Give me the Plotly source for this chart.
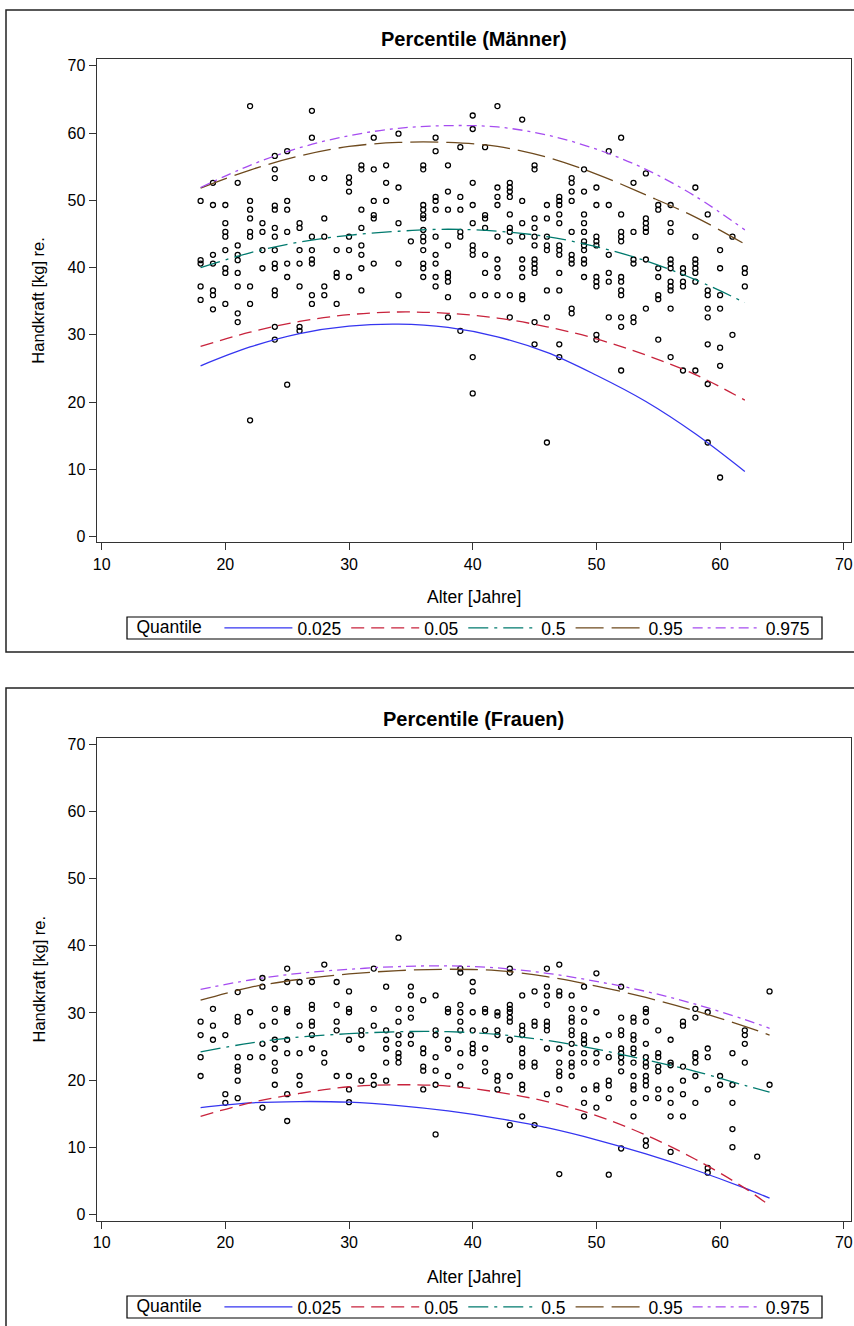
import plotly.graph_objects as go

# ---------------- data: Männer ----------------
men_ages = list(range(18, 63))
men_vals = [
    [49.9, 41.1, 40.6, 37.2, 35.2],
    [52.6, 49.3, 41.9, 40.6, 36.6, 35.9, 33.8],
    [49.3, 46.6, 45.3, 44.6, 42.6, 39.9, 39.2, 34.6],
    [52.6, 43.3, 41.9, 41.1, 39.2, 37.2, 33.2, 31.9],
    [64.0, 49.9, 48.6, 47.3, 45.3, 44.6, 37.2, 34.6, 17.3],
    [46.6, 45.3, 42.6, 39.9],
    [56.6, 54.6, 53.3, 49.2, 48.6, 45.9, 44.6, 42.6, 40.6, 39.9, 36.6, 35.9, 31.2, 29.3],
    [57.3, 49.9, 48.6, 45.3, 40.6, 38.6, 22.6],
    [46.6, 45.9, 42.6, 40.6, 37.2, 31.2, 30.6],
    [63.3, 59.3, 53.3, 44.6, 42.6, 41.2, 40.6, 35.9, 34.6],
    [53.3, 47.3, 44.6, 37.2, 35.9],
    [42.6, 39.2, 38.6, 34.6],
    [53.4, 52.6, 51.3, 44.6, 42.6, 38.6],
    [55.2, 54.6, 48.6, 45.9, 43.3, 41.9, 39.9, 36.6],
    [59.3, 54.6, 49.9, 47.8, 47.3, 40.6],
    [55.2, 52.6, 49.9],
    [59.9, 51.9, 46.6, 40.6, 35.9],
    [43.9],
    [55.2, 54.6, 49.3, 48.6, 47.8, 47.3, 45.6, 44.6, 43.9, 42.6, 40.6, 39.9, 38.6],
    [59.3, 57.3, 50.5, 49.9, 48.6, 44.6, 41.9, 40.6, 38.6, 37.2],
    [55.2, 51.3, 48.6, 43.3, 39.2, 38.6, 37.9, 35.6, 32.6],
    [57.9, 50.5, 48.6, 45.3, 44.6, 30.6],
    [62.6, 60.6, 52.6, 49.3, 46.6, 43.3, 42.6, 41.9, 35.9, 26.7, 21.3],
    [57.9, 47.8, 47.3, 45.9, 41.9, 39.2, 35.9],
    [64.0, 51.9, 50.5, 49.3, 44.6, 41.2, 39.9, 38.6, 35.9],
    [52.6, 51.9, 51.3, 50.5, 47.9, 45.9, 45.3, 43.9, 35.9, 32.6],
    [62.0, 49.9, 46.6, 44.6, 41.2, 39.9, 38.6, 35.9, 35.3],
    [55.2, 54.6, 47.3, 45.9, 44.6, 43.3, 41.2, 40.6, 39.9, 39.2, 31.9, 28.6],
    [49.3, 47.3, 44.6, 43.3, 42.6, 36.6, 32.6, 14.0],
    [50.5, 49.9, 49.3, 47.9, 46.6, 43.3, 42.6, 41.9, 39.2, 36.6, 28.6, 26.7],
    [53.3, 52.6, 51.3, 49.9, 45.3, 41.9, 41.2, 40.6, 33.9, 33.2],
    [54.6, 51.3, 47.9, 46.6, 45.3, 43.9, 43.3, 42.6, 41.2, 40.6, 38.6],
    [51.9, 49.3, 44.6, 43.9, 43.3, 38.6, 37.9, 37.2, 30.0, 29.3],
    [57.3, 49.3, 41.9, 39.2, 37.9, 32.6],
    [59.3, 47.9, 45.3, 44.6, 43.9, 38.6, 37.9, 36.6, 35.9, 32.6, 31.2, 24.7],
    [52.6, 45.3, 41.2, 40.6, 32.6, 31.9],
    [54.0, 47.3, 46.6, 45.9, 45.3, 41.2, 33.9],
    [49.3, 48.6, 39.9, 38.6, 35.9, 35.3, 29.3],
    [49.3, 46.6, 45.3, 41.2, 40.6, 39.9, 37.9, 37.2, 36.6, 33.9, 26.7],
    [39.9, 39.2, 37.9, 37.2, 24.7],
    [51.9, 44.6, 41.2, 40.6, 39.9, 39.2, 37.9, 24.7],
    [47.9, 36.6, 35.9, 33.9, 32.6, 28.6, 22.7, 14.0],
    [42.6, 39.9, 35.9, 33.9, 28.1, 25.4, 8.8],
    [44.6, 30.0],
    [39.9, 39.2, 37.2],
]

men_curve_age = [18, 22, 26, 30, 34, 38, 42, 46, 50, 54, 58, 62]
men_q025 = [25.4, 28.2, 30.2, 31.3, 31.6, 31.1, 29.7, 27.4, 24.0, 20.1, 15.3, 9.7]
men_q05 = [28.3, 30.4, 32.0, 33.0, 33.4, 33.2, 32.5, 31.2, 29.4, 27.0, 24.1, 20.3]
men_q50 = [40.0, 42.2, 43.8, 44.8, 45.4, 45.7, 45.4, 44.6, 43.1, 41.0, 38.2, 34.8]
men_q95 = [51.8, 54.5, 56.6, 58.0, 58.6, 58.6, 58.0, 56.4, 53.9, 50.8, 47.5, 43.5]
men_q975 = [51.9, 55.2, 57.8, 59.6, 60.7, 61.1, 60.9, 59.7, 57.6, 54.6, 50.6, 45.6]

# ---------------- data: Frauen ----------------
women_ages = list(range(18, 65))
women_vals = [
    [28.7, 26.7, 23.4, 20.6],
    [30.6, 28.1, 26.0],
    [26.7, 17.9, 16.6],
    [33.1, 29.4, 28.7, 23.4, 22.0, 21.4, 19.9, 17.3],
    [30.1, 23.4],
    [35.2, 33.9, 28.1, 25.4, 23.4, 15.9],
    [30.6, 28.7, 26.0, 24.7, 22.6, 21.4, 19.3],
    [36.6, 34.6, 30.6, 30.1, 26.0, 24.0, 17.9, 13.9],
    [34.6, 28.1, 24.0, 20.6, 19.3],
    [34.6, 31.2, 30.6, 28.7, 28.1, 26.7, 24.7],
    [37.2, 24.0, 22.6],
    [34.6, 31.2, 28.7, 27.4, 20.6],
    [33.2, 30.6, 30.1, 26.0, 20.6, 18.6, 16.7],
    [27.4, 26.7, 24.7, 19.9],
    [36.6, 30.6, 28.1, 20.6, 19.3],
    [33.9, 27.4, 26.0, 24.7, 22.6, 19.9],
    [41.2, 30.6, 28.7, 26.7, 25.4, 24.0, 23.4, 22.6],
    [33.9, 32.6, 30.6, 29.3, 26.7, 25.4],
    [31.9, 24.7, 24.0, 22.0, 21.4, 18.6],
    [32.6, 27.4, 26.7, 23.4, 21.4, 19.3, 11.9],
    [30.6, 30.1, 26.0, 24.7, 20.6],
    [36.6, 36.0, 31.2, 30.1, 28.7, 27.4, 24.0, 22.0, 19.3],
    [34.6, 33.2, 30.1, 27.4, 25.4, 24.7, 24.0],
    [30.6, 30.1, 27.4, 24.7, 22.6, 21.3],
    [30.1, 29.6, 27.4, 26.7, 20.6, 19.9, 18.6],
    [36.6, 36.0, 31.2, 30.6, 30.1, 29.3, 28.7, 26.0, 20.6, 13.3],
    [32.6, 28.1, 27.4, 26.7, 24.7, 24.0, 22.6, 22.0, 19.3, 18.6, 14.6],
    [33.2, 28.7, 28.1, 22.6, 22.0, 13.3],
    [36.6, 33.9, 32.6, 31.2, 28.7, 28.1, 27.4, 24.7, 17.9],
    [37.2, 33.2, 32.6, 24.7, 22.6, 21.3, 20.6, 18.6, 6.0],
    [32.6, 30.6, 29.3, 28.7, 27.4, 26.7, 25.4, 24.0, 22.6, 22.0, 20.6],
    [33.9, 30.6, 28.7, 26.7, 26.0, 25.4, 24.0, 22.6, 18.6, 16.6, 14.6],
    [35.9, 30.1, 26.0, 24.0, 22.6, 19.2, 18.6, 15.9],
    [26.7, 23.4, 19.9, 19.2, 17.3, 5.9],
    [33.9, 29.3, 27.4, 26.7, 24.7, 24.0, 23.4, 22.6, 21.3, 9.8],
    [29.3, 28.7, 26.7, 26.0, 24.7, 24.0, 22.6, 20.6, 19.2, 18.6, 16.6, 14.6],
    [30.6, 30.1, 28.7, 25.4, 23.4, 22.6, 22.0, 20.6, 19.9, 19.2, 17.3, 11.0, 10.2],
    [27.4, 24.0, 23.4, 22.0, 21.3, 18.6, 17.3],
    [26.0, 22.6, 22.2, 18.6, 16.6, 14.6, 9.3],
    [28.7, 28.1, 22.0, 19.9, 17.9, 14.6],
    [30.6, 29.3, 24.0, 23.4, 22.6, 20.6, 16.6],
    [30.1, 24.7, 23.4, 18.6, 6.9, 6.2],
    [20.6, 19.3],
    [24.0, 19.3, 16.6, 12.7, 10.0],
    [27.4, 26.7, 25.4, 22.6],
    [8.6],
    [33.2, 19.3],
]

women_curve_age = [18, 22, 26, 30, 34, 38, 42, 46, 50, 54, 58, 62, 64]
women_q025 = [15.9, 16.6, 16.8, 16.7, 16.2, 15.4, 14.3, 12.9, 11.1, 9.0, 6.6, 3.9, 2.4]
women_q05 = [14.6, 16.6, 18.0, 19.0, 19.3, 19.1, 18.2, 16.8, 14.7, 11.8, 8.2, 3.9, 1.3]
women_q50 = [24.2, 25.5, 26.4, 26.9, 27.2, 27.2, 26.8, 25.9, 24.6, 23.0, 21.3, 19.2, 18.2]
women_q95 = [31.9, 33.8, 35.0, 35.8, 36.3, 36.5, 36.3, 35.4, 34.0, 32.3, 30.3, 28.0, 26.7]
women_q975 = [33.5, 34.9, 35.9, 36.5, 36.9, 37.0, 36.7, 35.9, 34.7, 33.2, 31.3, 29.0, 27.7]

quantile_names = ["0.025", "0.05", "0.5", "0.95", "0.975"]
quantile_colors = ["#3535f0", "#c8233c", "#007a6e", "#6e4a1e", "#a64cf0"]
quantile_dashes = ["solid", "13px,7px", "20px,6px,3px,6px", "28px,8px", "10px,5px,3px,5px"]

FONT = "Liberation Sans, Arial, sans-serif"
W, H = 854, 1326

fig = go.Figure()


def flatten(ages, vals):
    xs, ys = [], []
    for a, vs in zip(ages, vals):
        for v in vs:
            xs.append(a)
            ys.append(v)
    return xs, ys


panels = [
    ("x", "y", "legend", men_ages, men_vals, men_curve_age,
     [men_q025, men_q05, men_q50, men_q95, men_q975]),
    ("x2", "y2", "legend2", women_ages, women_vals, women_curve_age,
     [women_q025, women_q05, women_q50, women_q95, women_q975]),
]

for xa, ya, leg, ages, vals, cage, curves in panels:
    xs, ys = flatten(ages, vals)
    fig.add_trace(go.Scatter(
        x=xs, y=ys, mode="markers", xaxis=xa, yaxis=ya, showlegend=False,
        marker=dict(symbol="circle-open", size=5, color="black", line=dict(width=1.3, color="black")),
        hoverinfo="skip"))
    for name, col, dash, cv in zip(quantile_names, quantile_colors, quantile_dashes, curves):
        fig.add_trace(go.Scatter(
            x=cage, y=cv, mode="lines", name=name, xaxis=xa, yaxis=ya, legend=leg,
            line=dict(color=col, width=1.3, dash=dash, shape="spline", smoothing=1.0)))


def px_x(p):
    return p / W


def px_y(p):
    return 1 - p / H


axis_common = dict(
    showline=True, mirror=True, linecolor="#333333", linewidth=1.3,
    ticks="outside", ticklen=7, tickwidth=1, tickcolor="#333333",
    showgrid=False, zeroline=False,
    tickfont=dict(family=FONT, size=16, color="black"),
    automargin=False,
)

LEG_FONT = dict(family=FONT, size=17.5, color="black")


def legend_cfg(yc):
    return dict(orientation="h", x=px_x(474.5), xanchor="center", y=px_y(yc), yanchor="middle",
                borderwidth=0, bgcolor="rgba(0,0,0,0)", itemwidth=68,
                title=dict(text="Quantile\u00a0\u00a0", side="left", font=LEG_FONT),
                font=LEG_FONT, traceorder="normal")


fig.update_layout(
    width=W, height=H,
    margin=dict(l=0, r=0, t=0, b=0),
    paper_bgcolor="white", plot_bgcolor="white",
    xaxis=dict(domain=[px_x(96.7), px_x(850.7)], range=[9.6, 70.56], tickvals=[10, 20, 30, 40, 50, 60, 70],
               anchor="y", **axis_common),
    yaxis=dict(domain=[px_y(542.3), px_y(59)], range=[-0.83, 71.0], tickvals=[0, 10, 20, 30, 40, 50, 60, 70],
               anchor="x", **axis_common),
    xaxis2=dict(domain=[px_x(96.7), px_x(850.7)], range=[9.6, 70.56], tickvals=[10, 20, 30, 40, 50, 60, 70],
                anchor="y2", **axis_common),
    yaxis2=dict(domain=[px_y(1220.7), px_y(738.3)], range=[-0.95, 70.9], tickvals=[0, 10, 20, 30, 40, 50, 60, 70],
                anchor="x2", **axis_common),
    legend=legend_cfg(628),
    legend2=legend_cfg(1307),
    showlegend=True,
)

# outer frames
fig.add_shape(type="rect", xref="paper", yref="paper",
              x0=px_x(6), x1=1.05, y0=px_y(652), y1=px_y(10),
              line=dict(color="#222222", width=1.5), fillcolor="rgba(0,0,0,0)", layer="below")
fig.add_shape(type="rect", xref="paper", yref="paper",
              x0=px_x(6), x1=1.05, y0=-0.05, y1=px_y(688),
              line=dict(color="#222222", width=1.5), fillcolor="rgba(0,0,0,0)", layer="below")
# legend boxes
for top, bot in [(617, 639), (1296, 1318)]:
    fig.add_shape(type="rect", xref="paper", yref="paper",
                  x0=px_x(127), x1=px_x(822), y0=px_y(bot), y1=px_y(top),
                  line=dict(color="black", width=1.2), fillcolor="rgba(0,0,0,0)", layer="below")

annots = [
    dict(text="<b>Percentile (Männer)</b>", x=px_x(473.7), y=px_y(39), size=20, angle=0),
    dict(text="<b>Percentile (Frauen)</b>", x=px_x(473.7), y=px_y(719), size=20, angle=0),
    dict(text="Alter [Jahre]", x=px_x(473.7), y=px_y(597), size=17.5, angle=0),
    dict(text="Alter [Jahre]", x=px_x(473.7), y=px_y(1277), size=17.5, angle=0),
    dict(text="Handkraft [kg] re.", x=px_x(38), y=px_y(300.7), size=16.5, angle=-90),
    dict(text="Handkraft [kg] re.", x=px_x(38), y=px_y(979.5), size=16.5, angle=-90),
]
for a in annots:
    fig.add_annotation(text=a["text"], x=a["x"], y=a["y"], xref="paper", yref="paper",
                       xanchor="center", yanchor="middle", showarrow=False, textangle=a["angle"],
                       font=dict(family=FONT, size=a["size"], color="black"))

fig.write_html("out.html", config={"displayModeBar": False},
               post_script="document.body.style.margin='0px';document.body.style.padding='0px';"
                           "document.body.style.overflow='hidden';")
